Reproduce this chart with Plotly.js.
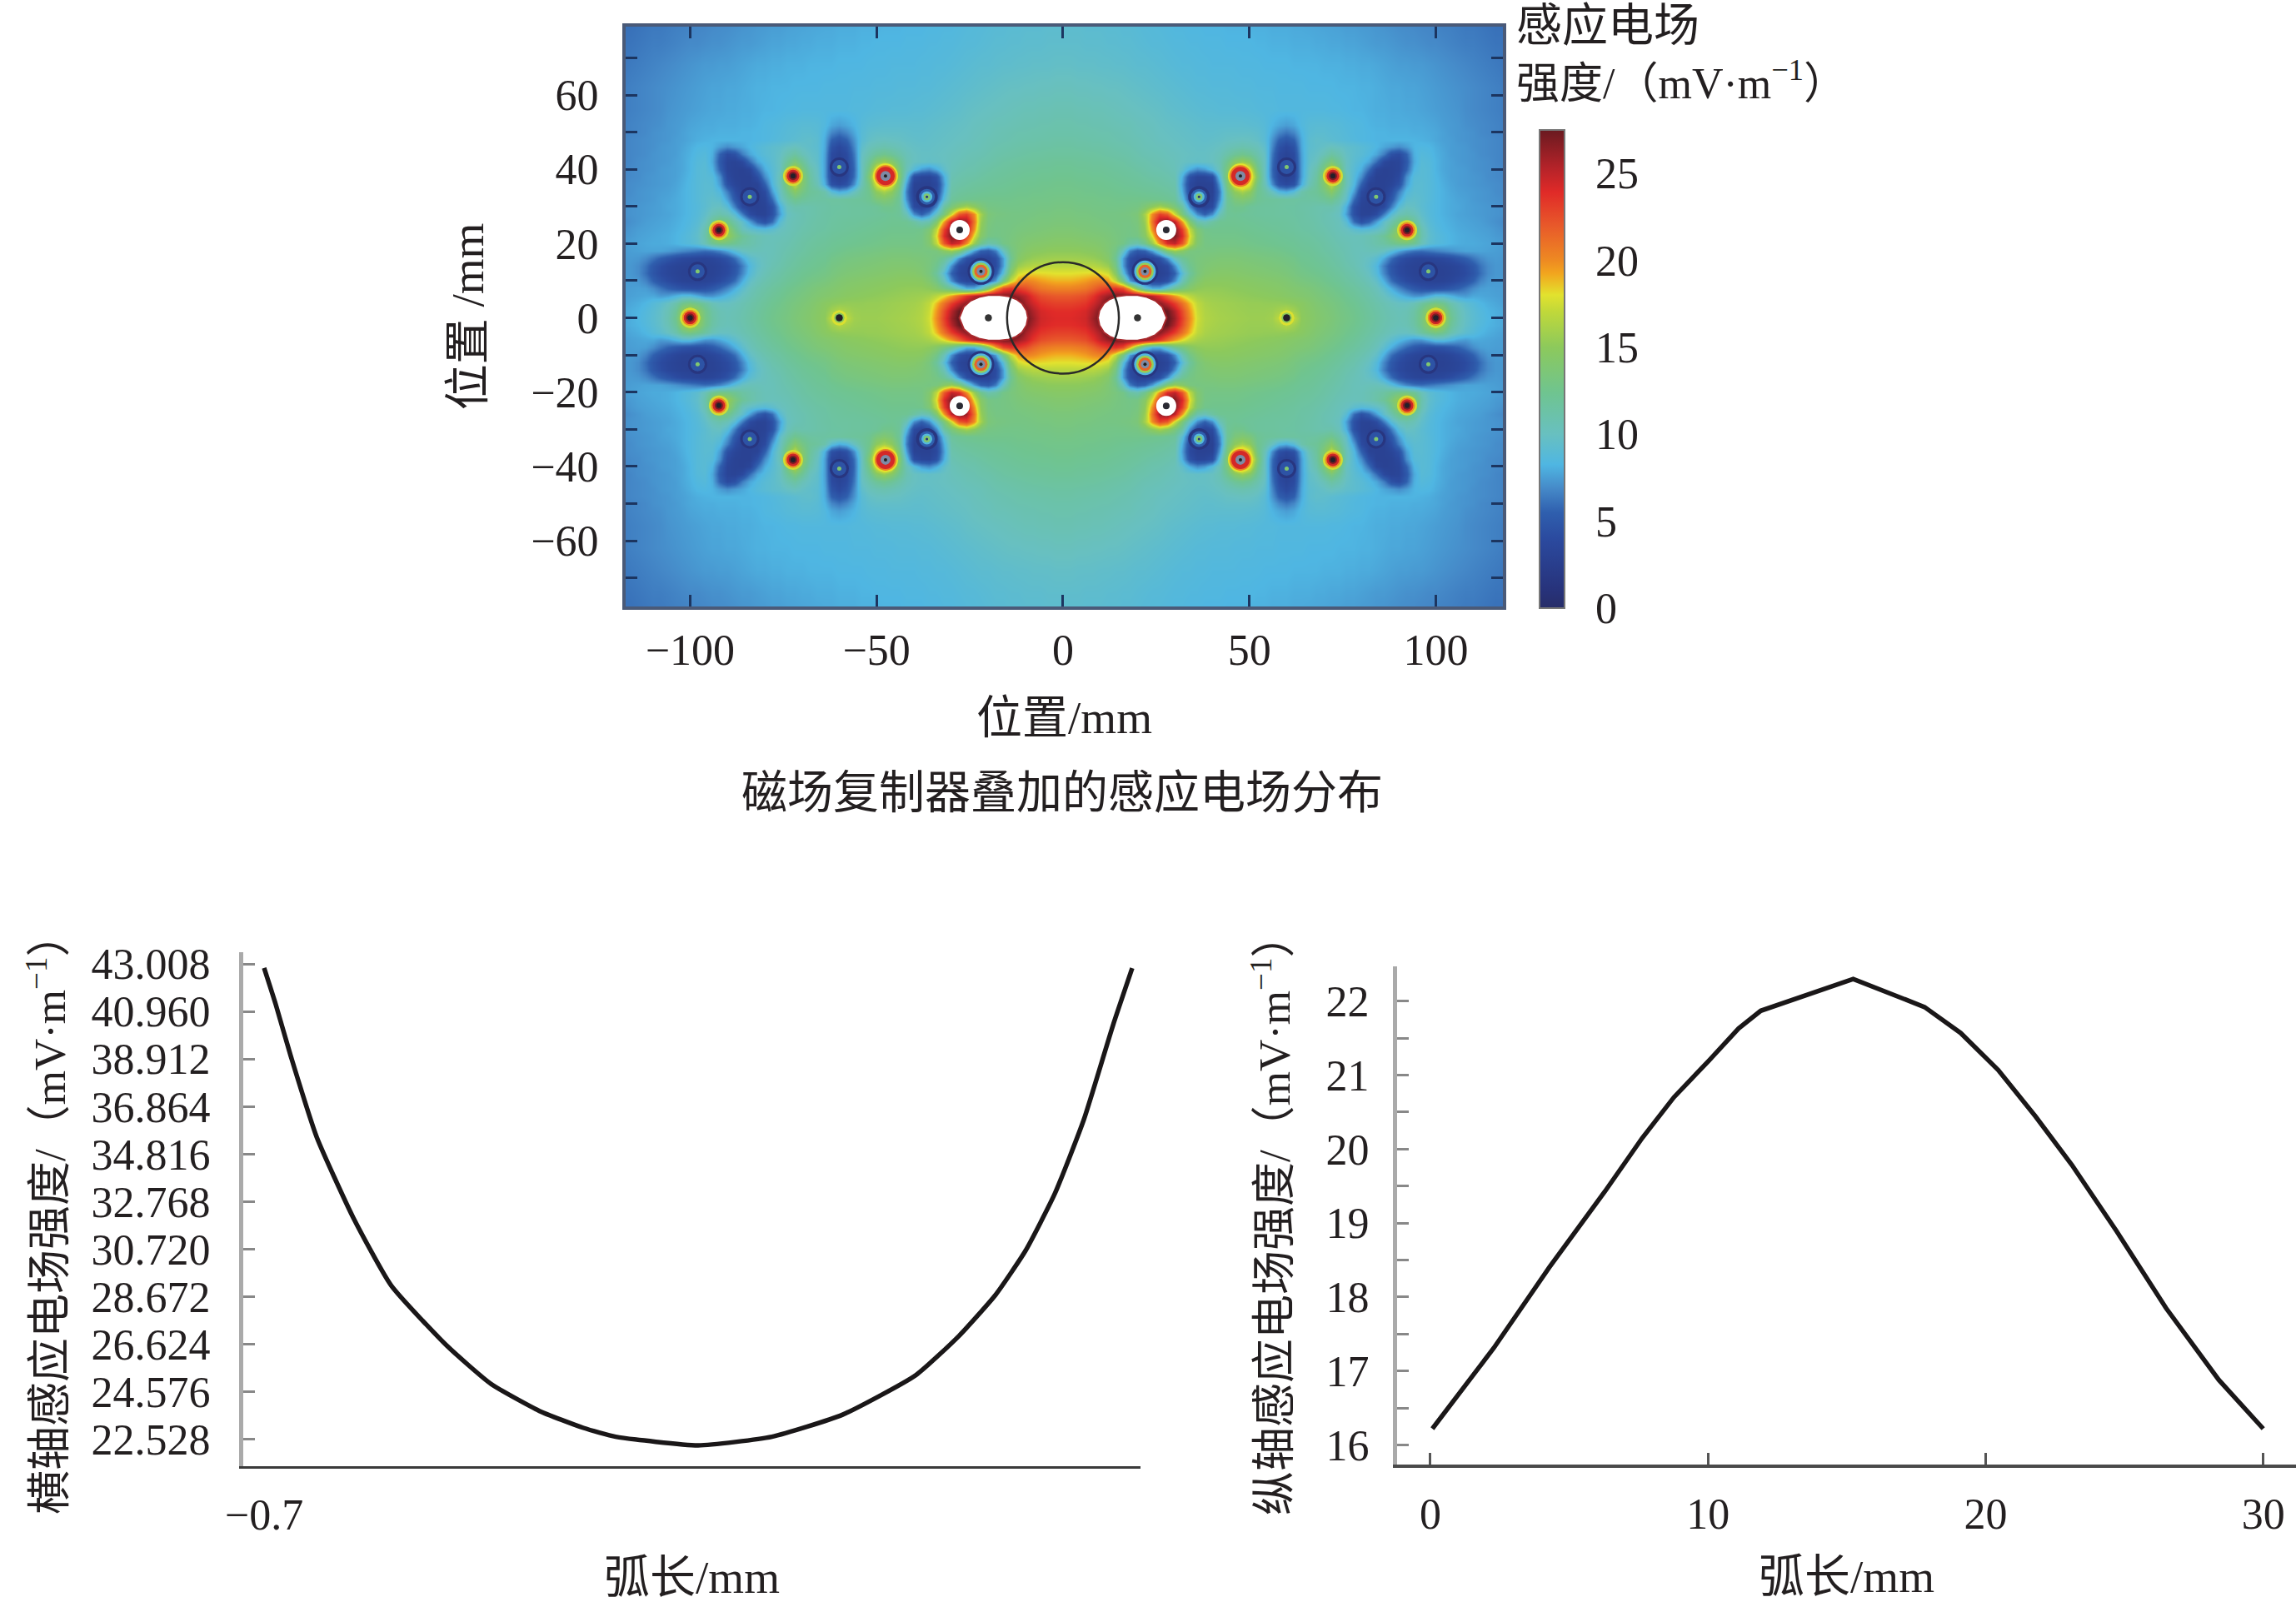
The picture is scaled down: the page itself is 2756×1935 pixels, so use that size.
<!DOCTYPE html>
<html><head><meta charset="utf-8">
<script src="https://cdn.plot.ly/plotly-3.0.1.min.js"></script>
<style>html,body{margin:0;padding:0;background:#fff}#c{width:2756px;height:1935px}</style></head>
<body><div id="c"></div>
<script>
// ---- field map: upper-right quadrant, mV/m
const gridX=[0,2,4,6,8,10,12,14,16,18,20,22,24,26,28,30,32,34,36,38,40,42,44,46,48,50,52,54,56,58,60,62,64,66,68,70,72,74,76,78,80,82,84,86,88,90,92,94,96,98,100,102,104,106,108,110,112,114,116,118,120];
const gridY=[0,2,4,6,8,10,12,14,16,18,20,22,24,26,28,30,32,34,36,38,40,42,44,46,48,50,52,56,62,68,74,81];
const fieldRows=[
[24,24,24.2,24.5,26,27.5,28,28,28,28,28,28,28,28,28, 26,23,20,17.5,16.5,16.2,16,15.9,15.8,15.7,15.6,15.6,15.6,15.8,17, 18,17,15,14.6,14.2,13.9,13.6,13.2,12.9,12.6,12.2,11.8,11.4,11,10.7, 10.5,10.7,11.5,13,16,20,16,12.5,10.8,9.8,9.2,8.7,8.3,8,7.8,7.7],
[23.8,23.8,24,24.3,25.5,27,28,28,28,28,28,28,28,28,27.5, 25.3,22.5,19.6,17.3,16.4,16.1,15.9,15.8,15.7,15.6,15.5,15.5,15.5,15.6,16, 16.5,15.8,14.9,14.5,14.1,13.8,13.5,13.1,12.8,12.5,12.1,11.7,11.3,10.9,10.6, 10.4,10.6,11.3,12.8,15,17,15,12,10.6,9.7,9.1,8.6,8.2,8,7.8,7.6],
[23,23,23.2,23.5,24.5,25.8,28,28,28,28,28,28,27.5,26.5,25, 23.2,21,18.8,17,16.2,15.9,15.8,15.7,15.6,15.5,15.4,15.4,15.3,15.3,15.3, 15.2,15,14.7,14.3,13.9,13.6,13.3,13,12.6,12.3,11.9,11.5,11.1,10.7,10.3, 10,10,10.5,11.6,12.6,13.2,12.5,11,10,9.3,8.8,8.3,8,7.8,7.6,7.5],
[22,22,22.2,22.5,23.5,25,26,27,27,27,27,26,25,23.5,21.5, 19.5,18,16.8,16,15.7,15.6,15.5,15.4,15.3,15.2,15.1,15,14.9,14.8,14.7, 14.5,14.3,14.1,13.9,13.6,13.3,13,12.7,12.3,12,11.6,11.2,10.7,10.1,9.3, 8.5,7.8,7.2,7.2,8,8.8,8.8,8.2,7.6,7.4,7.8,7.8,7.7,7.6,7.5,7.4],
[20.3,20.3,20.5,20.8,21.5,22.5,23.2,23.5,22.5,19,14,10,8,8,10, 12,13.2,14.3,15,15.2,15.2,15.2,15.1,15,14.9,14.8,14.7,14.6,14.5,14.4, 14.2,14,13.8,13.6,13.3,13,12.7,12.4,12,11.7,11.3,10.9,10.3,9.3,8, 6.8,5.8,5,4.5,4.3,4.4,4.6,5,5.5,6.2,7,7.5,7.6,7.5,7.5,7.4],
[19,19,19.2,19.5,20,20.3,19.5,17,13,7.5,5,4,3.6,3.6,4.5, 7,10.5,12.8,14,14.7,14.8,14.8,14.8,14.7,14.6,14.5,14.4,14.3,14.2,14.1, 13.9,13.6,13.3,13.1,12.9,12.6,12.3,12,11.6,11.3,10.9,10.4,9.6,8,6, 4.8,4,3.5,3.2,3.1,3.1,3.2,3.5,4,4.6,5.5,6.7,7.3,7.4,7.4,7.3],
[18,18,18.1,18.2,18.3,18.2,17.5,14.5,9,5,3.5,3,3,3,3.5, 5.5,9,11.8,13.3,14,14.3,14.4,14.4,14.3,14.2,14.1,14,13.9,13.8,13.7, 13.5,13.2,12.9,12.7,12.5,12.3,12,11.7,11.3,11,10.5,9.9,8.8,6.8,5, 4,3.5,3.1,3,3,3,3,3.2,3.5,4,4.8,6,7,7.3,7.3,7.2],
[16.8,16.8,16.8,16.7,16.6,16.2,15.5,13,7.5,4,3,3,3,3.2,4, 7,10.5,12.4,13.3,13.7,13.9,14,14,14,13.9,13.8,13.7,13.6,13.5,13.4, 13.2,13,12.6,12.4,12.2,12,11.7,11.4,11,10.7,10.2,9.6,8.5,6.5,4.8, 3.9,3.4,3.1,3,3,3,3.1,3.3,3.6,4.2,5,6.2,7,7.3,7.3,7.1],
[15.8,15.8,15.7,15.6,15.4,15,14.3,12.2,7.5,4.3,3.2,3,3.3,4.5,7, 10.2,12,12.9,13.3,13.5,13.6,13.7,13.7,13.7,13.6,13.5,13.4,13.3,13.2,13.1, 12.9,12.7,12.3,12.2,12,11.8,11.5,11.2,10.8,10.5,10.2,9.8,9.2,7.8,6, 4.6,3.9,3.5,3.3,3.4,3.6,3.8,4.2,4.8,5.4,6.2,6.9,7.3,7.4,7.3,7.1],
[15,15,15,14.8,14.7,14.4,13.8,12.8,10,6.5,5,5.5,7.5,10.5,14, 15.5,14.5,13.3,13.1,13.2,13.2,13.3,13.3,13.3,13.2,13.1,13,12.9,12.8,12.7, 12.5,12.3,12.1,12,11.8,11.5,11.3,11,10.7,10.4,10.3,10.4,10.4,10,9, 7.8,6.8,6.2,6,6.3,6.6,6.9,7.2,7.5,7.7,7.7,7.7,7.6,7.5,7.4,7.2],
[14.5,14.5,14.4,14.3,14.2,14,13.7,13.3,12.8,11.5,11,12.5,15.5,20,24, 25,22,17,14,13,12.9,12.9,12.9,12.9,12.8,12.7,12.6,12.5,12.4,12.3, 12.2,12.1,11.9,11.8,11.6,11.4,11.1,10.8,10.6,10.4,10.4,10.7,11.1,11.5,12.2, 12.8,13,12.2,10.5,9.3,8.8,8.5,8.2,8,7.9,7.9,7.8,7.7,7.6,7.4,7.2],
[14.1,14.1,14,13.9,13.8,13.7,13.5,13.2,13,12.8,13,14.5,18,23.5,26.5, 27,24,18,14.2,12.9,12.7,12.7,12.7,12.7,12.6,12.5,12.4,12.3,12.2,12.1, 12,11.9,11.7,11.6,11.4,11.2,10.9,10.6,10.4,10.3,10.4,10.7,11.2,12,13.5, 15.5,17.5,14.5,11,9.5,8.9,8.5,8.2,8,7.9,7.8,7.7,7.6,7.4,7.3,7.1],
[13.8,13.8,13.7,13.6,13.5,13.4,13.3,13.1,13,12.9,13.2,15,20,25,27.5, 27,23,17,13.7,12.6,12.5,12.5,12.5,12.5,12.4,12.3,12.2,12.1,12,11.9, 11.8,11.7,11.5,11.4,11.2,11,10.7,10.4,10,9.3,8.8,9,9.5,10.3,12.5, 15,17.5,14,10.8,9.3,8.7,8.3,8.1,7.9,7.8,7.7,7.6,7.5,7.3,7.1,7],
[13.5,13.5,13.4,13.4,13.3,13.2,13.1,13,13,13,13.4,15.5,21,26,27, 25,19.5,14,11,10.5,11.5,12.2,12.3,12.3,12.2,12.1,12,11.9,11.8,11.8, 11.7,11.6,11.4,11.3,11.1,10.8,10.6,10.3,9,6,4.5,5.5,7.5,9.5,11, 12.8,13.5,12,10,9,8.5,8.2,8,7.8,7.7,7.6,7.5,7.3,7.1,6.9,6.8],
[13.3,13.3,13.2,13.2,13.1,13,13,13,13.1,13.2,13.6,16,20,23,22, 17.5,13.5,10,7,5.5,7,10.5,12,12.2,12,11.9,11.8,11.7,11.7,11.6, 11.6,11.5,11.4,11.2,11,10.8,10.5,10,7.5,4.5,3.2,3.2,4,6.5,9, 10.5,11,10.5,9.5,8.8,8.4,8.1,7.9,7.7,7.6,7.5,7.4,7.3,7.2,7.1,7],
[13.1,13.1,13,13,12.9,12.9,12.8,12.8,12.8,12.9,13,13.8,15,16,15, 13.5,11.5,7,4,3.2,4,8.5,12,12.6,12.6,12,11.8,11.7,11.7,11.6, 11.5,11.5,11.3,11.2,11,10.9,11,10.3,8,4.5,3.2,3,3,3.8,6.5, 9,10,9.8,9.2,8.7,8.4,8.1,7.9,7.8,7.6,7.5,7.4,7.3,7.2,7.1,7],
[12.9,12.9,12.8,12.8,12.8,12.7,12.7,12.6,12.6,12.6,12.6,12.6,12.5,12.4,12.2, 11.8,9,4.8,3.2,3,3.3,7,12,13.5,14,13.5,12.3,11.9,11.8,11.7, 11.6,11.6,11.5,11.5,11.6,12,12.5,11.3,9.5,6,3.5,3,3,3.2,5, 7.5,9.2,9.5,9.2,8.8,8.4,8.1,7.9,7.7,7.6,7.4,7.3,7.2,7.1,7,6.9],
[12.7,12.7,12.7,12.6,12.6,12.5,12.5,12.4,12.3,12.3,12.2,12.1,12,11.9,11.7, 11.3,8,4,3,3,3,6.5,12.5,15,16,15,12.5,11.5,10,8.5, 8,9,11,11.7,12,13,14.5,12.5,10,7.5,4,3,3,3,4.2, 6.5,8.5,9.2,9.1,8.8,8.4,8.1,7.8,7.6,7.5,7.4,7.3,7.2,7,6.9,6.8],
[12.6,12.6,12.5,12.5,12.4,12.4,12.3,12.2,12.1,12,11.9,11.8,11.7,11.5,11.3, 11,7.5,3.8,3,3,3.2,7.5,13.5,18,21,18,13,10.5,7,4.5, 3.8,4.5,8,10.5,11.8,14,17,14,10.5,8.5,5.5,3.2,3,3,3.4, 4.5,7.5,9,9.1,8.8,8.4,8,7.7,7.5,7.4,7.3,7.2,7.1,7,6.9,6.8],
[12.4,12.4,12.3,12.3,12.2,12.2,12.1,12,11.9,11.8,11.7,11.5,11.3,11.2,11, 10.7,8,4.5,3.4,3.5,4.2,9,14.5,20,24,20,14,10,6,3.6, 3,3.6,7.5,10,11.5,14.5,20,15,10.5,8.8,7,4.3,3,3,3.1, 3.8,7,8.8,9,8.8,8.3,7.9,7.6,7.5,7.4,7.3,7.2,7,6.9,6.8,6.7],
[12.2,12.2,12.1,12.1,12,12,11.9,11.8,11.7,11.6,11.4,11.2,11,10.9,10.7, 10.4,9.5,8,7,7.5,8.8,10.5,13.5,18,21,18,13,10,5.8,3.5, 3,3.5,7.5,9.8,11,13.5,17,13.5,10,9,8,6,3.5,3,3.1, 3.4,5.5,8.2,9,8.8,8.2,7.8,7.6,7.5,7.4,7.2,7.1,7,6.9,6.8,6.7],
[12,12,11.9,11.9,11.8,11.8,11.7,11.6,11.5,11.3,11.1,11,10.8,10.7,10.5, 10.3,10,9.8,9.7,9.8,10,10.7,12.5,14.5,15.5,14.5,12,10,6,3.7, 3,3.7,7.5,9.5,10.2,12,13.5,12,10,9.2,8.6,7.8,6,3.8,3.2, 3.4,5,7.8,8.9,8.7,8.2,7.8,7.6,7.4,7.3,7.2,7.1,7,6.8,6.7,6.6],
[11.7,11.7,11.7,11.6,11.6,11.5,11.4,11.3,11.2,11.1,10.9,10.7,10.6,10.5,10.3, 10.2,10,9.9,9.8,9.8,10,10.4,11.2,12,12.5,12,11,9.8,6.3,4, 3.3,4,7.6,9.4,9.8,10.5,11.5,10.8,9.8,9.3,9,8.5,7.8,6.5,4.5, 4,5.5,8,8.7,8.5,8.1,7.8,7.5,7.4,7.3,7.2,7,6.9,6.8,6.7,6.6],
[11.5,11.5,11.4,11.4,11.3,11.3,11.2,11.1,11,10.9,10.7,10.5,10.4,10.3,10.2, 10,9.9,9.8,9.7,9.7,9.8,10,10.4,10.7,10.9,10.7,10.3,9.4,6.8,4.6, 3.8,4.6,7.8,9.2,9.5,9.8,10.2,9.9,9.5,9.3,9,8.7,8.3,7.8,7.4, 7,7.5,8.2,8.4,8.3,8,7.7,7.5,7.4,7.3,7.1,7,6.9,6.8,6.7,6.6],
[11.3,11.3,11.2,11.2,11.1,11.1,11,10.9,10.8,10.7,10.6,10.4,10.3,10.1,10, 9.9,9.8,9.7,9.6,9.5,9.6,9.7,9.9,10,10.1,10,9.7,9,7.2,5.5, 4.8,5.5,7.9,9.2,9.5,9.4,9.2,9,8.8,8.6,8.4,8.3,8.2,8.2,8.2, 8.2,8.2,8.2,8.1,8,7.8,7.6,7.5,7.3,7.2,7.1,7,6.9,6.8,6.7,6.5],
[11.1,11.1,11.1,11,11,10.9,10.9,10.8,10.7,10.6,10.4,10.3,10.2,10,9.9, 9.8,9.7,9.6,9.5,9.4,9.4,9.5,9.6,9.6,9.6,9.6,9.4,8.9,7.8,6.8, 6.2,6.8,8.2,9,9.2,9.2,9,8.9,8.7,8.5,8.4,8.3,8.2,8.2,8.1, 8.1,8.1,8,8,7.9,7.8,7.6,7.4,7.3,7.2,7.1,6.9,6.8,6.7,6.6,6.5],
[11,11,10.9,10.9,10.8,10.8,10.7,10.6,10.5,10.5,10.3,10.2,10.1,9.9,9.8, 9.7,9.6,9.5,9.4,9.3,9.3,9.3,9.3,9.3,9.3,9.2,9.1,8.8,8.2,7.8, 7.5,7.8,8.5,8.9,9,9,8.9,8.8,8.6,8.5,8.4,8.2,8.1,8.1,8, 8,8,7.9,7.9,7.8,7.7,7.5,7.4,7.3,7.1,7,6.9,6.8,6.7,6.6,6.5],
[10.7,10.7,10.6,10.6,10.5,10.5,10.4,10.3,10.2,10.1,10,9.9,9.8,9.7,9.5, 9.4,9.3,9.2,9.1,9,9,8.9,8.9,8.9,8.8,8.8,8.7,8.6,8.6,8.5, 8.5,8.5,8.5,8.5,8.5,8.5,8.4,8.4,8.3,8.2,8.2,8.1,8,8,7.9, 7.9,7.8,7.8,7.7,7.6,7.5,7.4,7.3,7.2,7,6.9,6.8,6.7,6.6,6.5,6.4],
[10.2,10.2,10.1,10.1,10,10,9.9,9.9,9.8,9.7,9.6,9.5,9.4,9.3,9.2, 9.1,9,8.9,8.8,8.8,8.7,8.7,8.7,8.6,8.6,8.6,8.5,8.5,8.5,8.4, 8.4,8.4,8.4,8.3,8.3,8.3,8.3,8.2,8.2,8.2,8.1,8.1,8,7.9,7.8, 7.8,7.7,7.7,7.6,7.5,7.4,7.3,7.2,7.1,7,6.9,6.8,6.7,6.6,6.5,6.4],
[9.7,9.7,9.6,9.6,9.6,9.5,9.5,9.4,9.4,9.3,9.2,9.2,9.1,9,8.9, 8.8,8.7,8.7,8.6,8.6,8.5,8.5,8.5,8.5,8.4,8.4,8.4,8.3,8.3,8.3, 8.3,8.2,8.2,8.2,8.2,8.1,8.1,8.1,8,8,7.9,7.9,7.8,7.7,7.6, 7.5,7.5,7.4,7.4,7.3,7.2,7.1,7,6.9,6.8,6.7,6.6,6.5,6.4,6.3,6.3],
[9.4,9.4,9.4,9.3,9.3,9.3,9.2,9.2,9.1,9.1,9,8.9,8.8,8.8,8.7, 8.6,8.6,8.5,8.5,8.4,8.4,8.4,8.3,8.3,8.3,8.3,8.2,8.2,8.1,8.1, 8.1,8,8,8,7.9,7.9,7.8,7.8,7.7,7.7,7.6,7.5,7.4,7.4,7.3, 7.2,7.1,7.1,7,6.9,6.9,6.8,6.7,6.6,6.5,6.5,6.4,6.3,6.2,6.2,6.1],
[9.2,9.2,9.2,9.1,9.1,9.1,9,9,8.9,8.9,8.8,8.7,8.7,8.6,8.5, 8.4,8.4,8.3,8.3,8.2,8.2,8.2,8.1,8.1,8.1,8,8,8,7.9,7.9, 7.9,7.8,7.8,7.7,7.7,7.6,7.6,7.5,7.4,7.4,7.3,7.3,7.2,7.1,7, 6.9,6.9,6.8,6.7,6.7,6.6,6.5,6.5,6.4,6.3,6.3,6.2,6.1,6,6,5.9]
];
// conductor positions, mm (one quadrant; the figure repeats them in all four)
const smallHotX=[100,92.3,72.4], smallHotY=[0,23.6,38.2];
const largeHotX=[47.6], largeHotY=[38.2];
const faintHotX=[60], faintHotY=[0];
const saturatedX=[27.7], saturatedY=[23.7];
const lobeX=[98,84,60], lobeY=[12.5,32.6,40.6];
const innerLobeX=[36.5], innerLobeY=[32.6];
const nearLobeX=[22], nearLobeY=[12.5];
const blobCentreX=[20], blobCentreY=[0];
// outline of the saturated (off-scale) region, upper half, right-hand side
const blobX=[9.4,9.8,11,12.5,14.5,17,20,22.5,24.8,26.6,27.8];
const blobY=[0,2,3.9,5,5.8,6.1,6.1,5.6,4.6,3,0];
const fieldTicks=[0,5,10,15,20,25];
// line profiles
const horizArc=[-0.70,-0.681,-0.657,-0.615,-0.556,-0.495,-0.405,-0.334,-0.256,-0.185,-0.133,0,0.119,0.233,0.351,0.421,0.48,0.528,0.575,0.622,0.669,0.70];
const horizField=[42.83,41.24,39.04,35.54,32.07,29.16,26.56,24.92,23.76,23.03,22.65,22.28,22.65,23.6,25.3,27.0,28.77,30.66,33.1,36.3,40.36,42.82];
const horizTicks=[43.008,40.960,38.912,36.864,34.816,32.768,30.720,28.672,26.624,24.576,22.528];
const vertArc=[0.07,2.28,4.28,6.29,7.63,8.77,10.04,11.1,11.9,13.9,15.23,17.8,19.1,20.45,21.8,23.1,24.7,26.5,28.4,30];
const vertField=[16.22,17.31,18.4,19.43,20.15,20.7,21.2,21.63,21.87,22.12,22.3,21.92,21.57,21.07,20.44,19.79,18.9,17.85,16.88,16.22];

const W=2756,H=1935;
const FONT='"Liberation Serif","Noto Sans CJK SC",serif', INK='#231f20', FS=52;
const scale=[[0,'#272d68'],[0.036,'#27327a'],[0.145,'#2b4a9f'],[0.2,'#2f5fae'],[0.25,'#4589c8'],[0.3,'#4fb6e2'],[0.364,'#68c0c0'],[0.45,'#6fc490'],[0.545,'#8cc95c'],[0.62,'#c0d83a'],[0.655,'#e2e22e'],[0.7,'#f2a51e'],[0.727,'#ee8a22'],[0.8,'#e8592a'],[0.87,'#e02a28'],[0.92,'#b52329'],[1,'#6a1a20']];
const CMAX=27.5, BAR_L=1848, BAR_R=1878, BAR_B=730, BAR_LEN=574;
const fullX=gridX.slice(1).reverse().map(v=>-v).concat(gridX);
const fullY=gridY.slice(1).reverse().map(v=>-v).concat(gridY);
const mirrorRow=r=>r.slice(1).reverse().concat(r);
const fullZ=fieldRows.slice(1).reverse().concat(fieldRows).map(mirrorRow);
function four(xs,ys){const X=[],Y=[];xs.forEach((x,i)=>{[[1,1],[-1,1],[1,-1],[-1,-1]].forEach(([a,b])=>{X.push(a*x);Y.push(b*ys[i]);});});return [X,Y];}
function ring(xs,ys,size,val,solid){const [X,Y]=four(xs,ys);
  return {type:'scatter',mode:'markers',x:X,y:Y,xaxis:'x',yaxis:'y',hoverinfo:'skip',showlegend:false,
    marker:solid?{size,color:solid,line:{width:0}}:{size,color:X.map(()=>val),cmin:0,cmax:CMAX,colorscale:scale,showscale:false,line:{width:0}}};}
const traces=[{type:'heatmap',x:fullX,y:fullY,z:fullZ,zmin:0,zmax:CMAX,zsmooth:'best',colorscale:scale,xaxis:'x',yaxis:'y',hoverinfo:'skip',
  colorbar:{x:BAR_L/W,xanchor:'left',xref:'paper',y:1-BAR_B/H,yanchor:'bottom',yref:'paper',ypad:0,xpad:0,thickness:30,thicknessmode:'pixels',len:BAR_LEN,lenmode:'pixels',
    tickmode:'array',tickvals:fieldTicks,ticktext:fieldTicks.map(String),ticks:'outside',ticklen:26,tickcolor:'rgba(0,0,0,0)',tickfont:{family:FONT,size:FS,color:INK},outlinecolor:'#777',outlinewidth:2,borderwidth:0}}];
[1,-1].forEach(sx=>{const ox=blobX.map(v=>sx*v),oy=blobY;
  traces.push({type:'scatter',mode:'lines',x:ox.concat(ox.slice().reverse()),y:oy.concat(oy.slice().reverse().map(v=>-v)),fill:'toself',fillcolor:'#fff',line:{color:'#a8282c',width:2},hoverinfo:'skip',showlegend:false,xaxis:'x',yaxis:'y'});});
const CORE='#241f2a';
traces.push(ring(smallHotX,smallHotY,24,17.5),ring(smallHotX,smallHotY,19,20),ring(smallHotX,smallHotY,15,24.5),ring(smallHotX,smallHotY,10,27),ring(smallHotX,smallHotY,6,0,CORE));
traces.push(ring(largeHotX,largeHotY,30,18),ring(largeHotX,largeHotY,26,20.5),ring(largeHotX,largeHotY,22,24.3),ring(largeHotX,largeHotY,12,0,'#7d8ba6'),ring(largeHotX,largeHotY,4,0,'#222'));
traces.push(ring(faintHotX,faintHotY,18,17.8),ring(faintHotX,faintHotY,12,15),ring(faintHotX,faintHotY,8,0,CORE));
traces.push(ring(saturatedX,saturatedY,24,0,'#fff'),ring(saturatedX,saturatedY,8,0,'#2a2a33'));
traces.push(ring(lobeX,lobeY,23,1.5),ring(lobeX,lobeY,17,4.6),ring(lobeX,lobeY,5,14));
traces.push(ring(innerLobeX,innerLobeY,26,1.5),ring(innerLobeX,innerLobeY,19,5.5),ring(innerLobeX,innerLobeY,13,8.6),ring(innerLobeX,innerLobeY,8,14),ring(innerLobeX,innerLobeY,3,1));
traces.push(ring(nearLobeX,nearLobeY,32,1.5),ring(nearLobeX,nearLobeY,26,8.4),ring(nearLobeX,nearLobeY,21,15.5),ring(nearLobeX,nearLobeY,16,21.5),ring(nearLobeX,nearLobeY,10,0,'#7d8ba6'),ring(nearLobeX,nearLobeY,4,0,'#222'));
traces.push(ring(blobCentreX,blobCentreY,8,0,'#333'));
traces.push({type:'scatter',mode:'lines',x:horizArc,y:horizField,xaxis:'x2',yaxis:'y2',line:{color:'#1a1718',width:5.5,shape:'spline',smoothing:0.5},hoverinfo:'skip',showlegend:false});
traces.push({type:'scatter',mode:'lines',x:vertArc,y:vertField,xaxis:'x3',yaxis:'y3',line:{color:'#1a1718',width:5.5},hoverinfo:'skip',showlegend:false});

const tf={family:FONT,size:FS,color:INK}, cf={family:FONT,size:55,color:INK}, vf={family:FONT,size:53,color:INK};
const dom=(a,b,L)=>[a/L,b/L], domY=(top,bot)=>[1-bot/H,1-top/H];
const mm10=[-70,-60,-50,-40,-30,-20,-10,0,10,20,30,40,50,60,70];
// short dashes on both sides of the colour bar, placed by the field value of each tick
const barDashes=[];
fieldTicks.filter(v=>v>0).forEach(v=>{const yp=1-(BAR_B-v/CMAX*BAR_LEN)/H;
  [[BAR_L,BAR_L+6],[BAR_R-6,BAR_R]].forEach(([a,b])=>barDashes.push({type:'line',xref:'paper',yref:'paper',x0:a/W,x1:b/W,y0:yp,y1:yp,line:{color:'rgba(40,40,50,0.65)',width:3}}));});
const layout={width:W,height:H,paper_bgcolor:'#fff',plot_bgcolor:'#fff',showlegend:false,font:tf,
  margin:{l:0,r:0,t:0,b:0,autoexpand:false},
  title:{text:'磁场复制器叠加的感应电场分布',x:1275/W,xref:'paper',xanchor:'center',y:1-951/H,yref:'paper',yanchor:'middle',font:cf},
  xaxis:{domain:dom(751,1804,W),range:[-117.3,118],anchor:'y',tickmode:'array',tickvals:[-100,-50,0,50,100],ticktext:['−100','−50','0','50','100'],ticks:'inside',ticklen:14,tickwidth:3,tickcolor:'#1c3560',mirror:'ticks',showline:true,linecolor:'#4a5a78',linewidth:4,showgrid:false,zeroline:false,tickfont:tf,ticklabelstandoff:4,
    title:{text:'位置/mm',font:cf,standoff:34}},
  yaxis:{domain:domY(32,728),range:[-77.7,78.4],anchor:'x',tickmode:'array',tickvals:mm10,ticktext:mm10.map(v=>v%20===0?String(v).replace('-','−'):''),ticks:'inside',ticklen:14,tickwidth:3,tickcolor:'#1c3560',mirror:'ticks',showline:true,linecolor:'#4a5a78',linewidth:4,showgrid:false,zeroline:false,tickfont:tf,ticklabelstandoff:18,
    title:{text:'位置 /mm',font:cf,standoff:40}},
  xaxis2:{domain:dom(292,1369,W),range:[-0.7336,0.7134],anchor:'y2',tickmode:'array',tickvals:[-0.7],ticktext:['−0.7'],ticks:'',showline:true,linecolor:'#3a3a3a',linewidth:3,showgrid:false,zeroline:false,tickfont:tf,ticklabelstandoff:11,
    title:{text:'弧长/mm',font:cf,standoff:28}},
  yaxis2:{domain:domY(1143,1760),range:[21.38,43.51],anchor:'x2',tickmode:'array',tickvals:horizTicks,ticktext:horizTicks.map(v=>v.toFixed(3)),ticks:'inside',ticklen:14,tickwidth:3,tickcolor:'#888',showline:true,linecolor:'#aaa',linewidth:5,showgrid:false,zeroline:false,tickfont:tf,ticklabelstandoff:24},
  xaxis3:{domain:dom(1677,2756,W),range:[-1.2,31.18],anchor:'y3',tickmode:'array',tickvals:[0,10,20,30],ticktext:['0','10','20','30'],ticks:'inside',ticklen:14,tickwidth:3,tickcolor:'#555',showline:true,linecolor:'#4a4a4a',linewidth:4,showgrid:false,zeroline:false,tickfont:tf,ticklabelstandoff:11,
    title:{text:'弧长/mm',font:cf,standoff:28}},
  yaxis3:{domain:domY(1160,1758),range:[15.736,22.47],anchor:'x3',tickmode:'array',tickvals:[16,16.5,17,17.5,18,18.5,19,19.5,20,20.5,21,21.5,22],ticktext:['16','','17','','18','','19','','20','','21','','22'],ticks:'inside',ticklen:14,tickwidth:3,tickcolor:'#888',showline:true,linecolor:'#aaa',linewidth:5,showgrid:false,zeroline:false,tickfont:tf,ticklabelstandoff:18},
  shapes:[{type:'circle',xref:'x',yref:'y',x0:-15,x1:15,y0:-15,y1:15,line:{color:'#2a2a2a',width:2.5}}].concat(barDashes),
  annotations:[{xref:'paper',yref:'paper',x:1818/W,y:1-30/H,xanchor:'left',yanchor:'middle',showarrow:false,align:'left',text:'感应电场',font:cf},
    {xref:'paper',yref:'paper',x:1818/W,y:1-97/H,xanchor:'left',yanchor:'middle',showarrow:false,align:'left',text:'强度/（mV·m<sup>−1</sup>）',font:tf},
    {xref:'paper',yref:'paper',x:56/W,y:1-1457/H,xanchor:'center',yanchor:'middle',textangle:-90,showarrow:false,text:'横轴感应电场强度/（mV·m<sup>−1</sup>）',font:vf},
    {xref:'paper',yref:'paper',x:1526/W,y:1-1457/H,xanchor:'center',yanchor:'middle',textangle:-90,showarrow:false,text:'纵轴感应电场强度/（mV·m<sup>−1</sup>）',font:vf}]
};
Plotly.newPlot('c',traces,layout,{staticPlot:true,displayModeBar:false});
</script></body></html>
